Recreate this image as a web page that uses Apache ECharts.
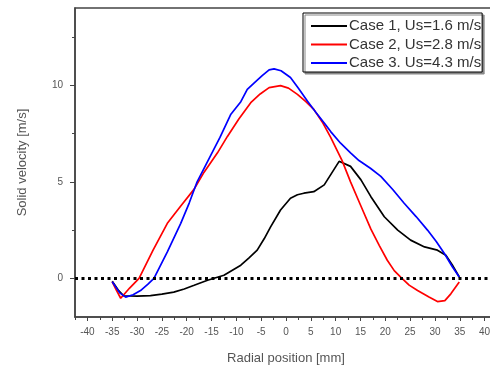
<!DOCTYPE html>
<html>
<head>
<meta charset="utf-8">
<script src="https://cdn.jsdelivr.net/npm/echarts@6/dist/echarts.min.js"></script>
<style>html,body{margin:0;padding:0;background:#fff}#c{width:490px;height:366px}</style>
</head>
<body>
<div id="c"></div>
<script>
var seriesNames = ['Case 1, Us=1.6 m/s', 'Case 2, Us=2.8 m/s', 'Case 3. Us=4.3 m/s'];
var xMajorTicks = [-40,-35,-30,-25,-20,-15,-10,-5,0,5,10,15,20,25,30,35,40];
var xMinorTicks = [-42.5,-37.5,-32.5,-27.5,-22.5,-17.5,-12.5,-7.5,-2.5,2.5,7.5,12.5,17.5,22.5,27.5,32.5,37.5,42.5];
var yMajorTicks = [0,5,10];
var yMinorTicks = [2.5,7.5,12.5];

var case1X = [-35,-33.8,-32.7,-30,-27.3,-25,-22.6,-20.5,-18.5,-15.8,-12.5,-9.1,-7.5,-5.8,-4.4,-3.1,-1.1,0.9,2.3,3.6,5.6,7.7,9.2,10.7,11.0,13.0,15.1,17.1,19.8,22.5,25.1,27.9,30.5,32.2,33.5,34.9];
var case1Y = [-0.15,-0.6,-0.9,-0.92,-0.89,-0.82,-0.71,-0.55,-0.36,-0.1,0.16,0.68,1.05,1.46,2.05,2.67,3.54,4.15,4.33,4.41,4.49,4.84,5.45,6.06,6.15,5.8,5.1,4.23,3.19,2.5,1.98,1.63,1.46,1.2,0.7,0.07];

var case2X = [-35,-34.2,-33.3,-31.5,-29.6,-26.8,-23.9,-21.2,-18.5,-16.5,-13.8,-11.8,-9.5,-7.1,-5.2,-3.4,-1.1,0.5,2.3,4.0,5.6,7.3,9.0,11.3,13.0,15.0,17.1,18.8,20.4,21.8,23.1,24.8,26.5,28.8,30.5,32.0,33.2,34.9];
var case2Y = [-0.18,-0.6,-1.03,-0.5,0,1.45,2.85,3.75,4.62,5.5,6.5,7.35,8.25,9.1,9.55,9.88,9.98,9.85,9.53,9.15,8.75,8.1,7.3,6.1,5.0,3.8,2.55,1.7,0.94,0.4,0.07,-0.35,-0.63,-0.97,-1.2,-1.15,-0.8,-0.19];

var case3X = [-35,-33.5,-32.3,-30.8,-29.3,-27.8,-26.6,-23.9,-21.2,-19.5,-17.9,-15.5,-13.3,-11.1,-9.1,-7.8,-6.5,-4.8,-3.4,-2.4,-1.0,0.9,2.5,4.3,6.0,7.7,9.0,11.0,13.0,14.7,17.0,19.1,21.5,23.8,26.2,28.5,30.3,31.9,33.5,34.9];
var case3Y = [-0.18,-0.75,-0.97,-0.85,-0.63,-0.3,0,1.37,2.85,3.9,5.0,6.2,7.3,8.5,9.15,9.79,10.1,10.5,10.8,10.85,10.75,10.4,9.85,9.18,8.6,8.05,7.6,7.0,6.5,6.1,5.7,5.28,4.6,3.89,3.2,2.5,1.9,1.29,0.6,0.07];

function zip(xs, ys) { return xs.map(function (x, i) { return [x, ys[i]]; }); }

var chart = echarts.init(document.getElementById('c'), null, {renderer: 'canvas'});
var FONT = 'Liberation Sans, Arial, sans-serif';
var axisGray = '#444';
var textGray = '#555';

var option = {
  animation: false,
  backgroundColor: '#fff',
  grid: {left: 75, top: 8, right: -7, bottom: 49, outerBoundsMode: 'none', containLabel: false,
         show: true, borderColor: axisGray, borderWidth: 1.5, backgroundColor: 'transparent'},
  legend: {
    orient: 'vertical', left: 303, top: 13,
    data: seriesNames,
    icon: 'rect',
    itemWidth: 36, itemHeight: 2, itemGap: 0.5,
    padding: [4, 1, 0, 8],
    backgroundColor: '#fff', borderColor: '#000', borderWidth: 1,
    shadowColor: '#888', shadowOffsetX: 2, shadowOffsetY: 2, shadowBlur: 0,
    textStyle: {fontSize: 15, lineHeight: 18, color: '#333', fontFamily: FONT, padding: [0, 0, 0, -3]}
  },
  xAxis: [{
    type: 'value', min: -42.5, max: 42.5, position: 'bottom',
    name: 'Radial position [mm]', nameLocation: 'middle', nameGap: 35,
    nameTextStyle: {fontSize: 13, color: textGray, fontFamily: FONT},
    axisLine: {show: true, onZero: false, lineStyle: {color: axisGray, width: 1.5}},
    axisTick: {show: true, length: 4, customValues: xMajorTicks, lineStyle: {color: axisGray}},
    axisLabel: {show: true, customValues: xMajorTicks, fontSize: 10, color: textGray, fontFamily: FONT, margin: 10},
    splitLine: {show: false}
  }, {
    type: 'value', min: -42.5, max: 42.5, position: 'bottom',
    axisLine: {show: false, onZero: false},
    axisTick: {show: true, length: 3, customValues: xMinorTicks, lineStyle: {color: axisGray}},
    axisLabel: {show: false},
    splitLine: {show: false}
  }],
  yAxis: [{
    type: 'value', min: -2, max: 14, position: 'left',
    name: 'Solid velocity [m/s]', nameLocation: 'middle', nameGap: 46,
    nameTextStyle: {fontSize: 13, color: textGray, fontFamily: FONT},
    axisLine: {show: true, onZero: false, lineStyle: {color: axisGray, width: 1.5}},
    axisTick: {show: true, length: 5, customValues: yMajorTicks, lineStyle: {color: axisGray}},
    axisLabel: {show: true, customValues: yMajorTicks, fontSize: 10, color: textGray, fontFamily: FONT, margin: 12},
    splitLine: {show: false}
  }, {
    type: 'value', min: -2, max: 14, position: 'left',
    axisLine: {show: false, onZero: false},
    axisTick: {show: true, length: 3, customValues: yMinorTicks, lineStyle: {color: axisGray}},
    axisLabel: {show: false},
    splitLine: {show: false}
  }],
  series: [
    {name: seriesNames[0], type: 'line', data: zip(case1X, case1Y), symbol: 'none', lineStyle: {color: '#000', width: 1.7}, itemStyle: {color: '#000'},
     markLine: {silent: true, symbol: 'none', label: {show: false}, lineStyle: {color: '#000', width: 3, type: [3, 3.5], cap: 'butt'}, data: [{yAxis: 0}]}},
    {name: seriesNames[1], type: 'line', data: zip(case2X, case2Y), symbol: 'none', lineStyle: {color: '#ff0000', width: 1.7}, itemStyle: {color: '#ff0000'}},
    {name: seriesNames[2], type: 'line', data: zip(case3X, case3Y), symbol: 'none', lineStyle: {color: '#0000ff', width: 1.7}, itemStyle: {color: '#0000ff'}}
  ]
};
chart.setOption(option);
</script>
</body>
</html>
